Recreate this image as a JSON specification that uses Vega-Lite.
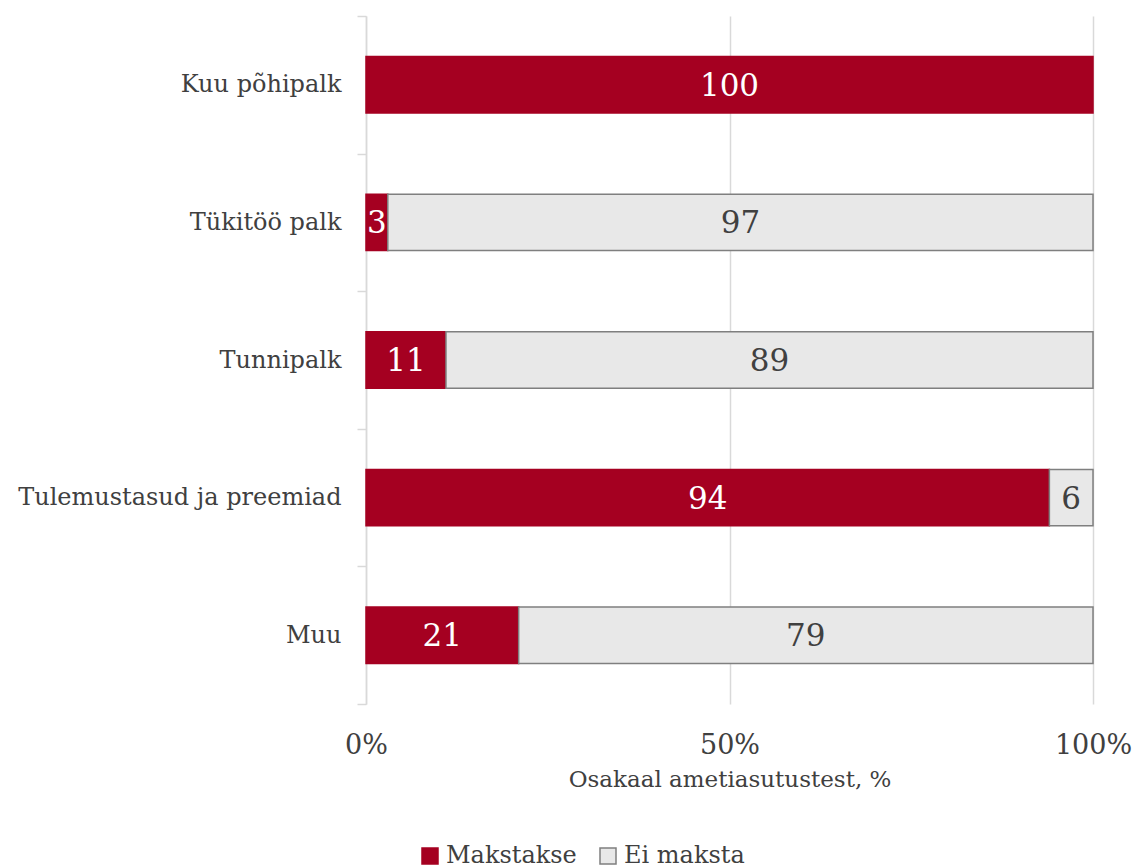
{
  "$schema": "https://vega.github.io/schema/vega-lite/v6.json",
  "width": 727,
  "height": 688,
  "autosize": "none",
  "padding": {"left": 366, "top": 16, "right": 43, "bottom": 164},
  "background": "white",
  "config": {
    "font": "DejaVu Serif",
    "view": {"stroke": null}
  },
  "data": {
    "values": [
      {"cat": "Kuu põhipalk", "series": "Makstakse", "ord": 1, "value": 100},
      {"cat": "Kuu põhipalk", "series": "Ei maksta", "ord": 2, "value": 0},
      {"cat": "Tükitöö palk", "series": "Makstakse", "ord": 1, "value": 3},
      {"cat": "Tükitöö palk", "series": "Ei maksta", "ord": 2, "value": 97},
      {"cat": "Tunnipalk", "series": "Makstakse", "ord": 1, "value": 11},
      {"cat": "Tunnipalk", "series": "Ei maksta", "ord": 2, "value": 89},
      {"cat": "Tulemustasud ja preemiad", "series": "Makstakse", "ord": 1, "value": 94},
      {"cat": "Tulemustasud ja preemiad", "series": "Ei maksta", "ord": 2, "value": 6},
      {"cat": "Muu", "series": "Makstakse", "ord": 1, "value": 21},
      {"cat": "Muu", "series": "Ei maksta", "ord": 2, "value": 79}
    ]
  },
  "transform": [
    {"stack": "value", "groupby": ["cat"], "sort": [{"field": "ord", "order": "ascending"}], "as": ["v0", "v1"]},
    {"filter": "datum.value > 0"},
    {"calculate": "(datum.v0 + datum.v1) / 2", "as": "mid"}
  ],
  "encoding": {
    "y": {
      "field": "cat",
      "type": "nominal",
      "sort": null,
      "scale": {"paddingInner": 0, "paddingOuter": 0},
      "axis": {
        "title": null,
        "labelFontSize": 24,
        "labelColor": "#404040",
        "labelPadding": 16,
        "labelLimit": 400,
        "tickBand": "extent",
        "ticks": true,
        "tickSize": 9,
        "tickWidth": 1.5,
        "tickColor": "#D9D9D9",
        "domainColor": "#D9D9D9",
        "domainWidth": 1.5,
        "grid": false
      }
    }
  },
  "layer": [
    {
      "mark": {"type": "bar", "strokeWidth": 1.5, "height": {"band": 0.41}},
      "encoding": {
        "x": {
          "field": "v0",
          "type": "quantitative",
          "scale": {"domain": [0, 100], "nice": false},
          "axis": {
            "values": [0, 50, 100],
            "labelExpr": "datum.value + '%'",
            "labelFontSize": 27,
            "labelColor": "#404040",
            "labelPadding": 28,
            "labelFlush": false,
            "ticks": false,
            "domain": false,
            "grid": true,
            "gridColor": "#D9D9D9",
            "gridWidth": 1.5,
            "title": "Osakaal ametiasutustest, %",
            "titleFontSize": 23,
            "titleFontWeight": "normal",
            "titleColor": "#404040",
            "titlePadding": 10
          }
        },
        "x2": {"field": "v1"},
        "color": {
          "field": "series",
          "type": "nominal",
          "scale": {"domain": ["Makstakse", "Ei maksta"], "range": ["#A50021", "#E8E8E8"]},
          "legend": {
            "title": null,
            "orient": "none",
            "direction": "horizontal",
            "legendX": 52,
            "legendY": 828,
            "labelFontSize": 24,
            "labelColor": "#404040",
            "symbolType": "square",
            "symbolSize": 256,
            "symbolStrokeWidth": 1.5,
            "labelOffset": 4,
            "columnPadding": 19
          }
        },
        "stroke": {
          "field": "series",
          "type": "nominal",
          "scale": {"domain": ["Makstakse", "Ei maksta"], "range": ["#A50021", "#7F7F7F"]}
        }
      }
    },
    {
      "mark": {"type": "text", "fontSize": 31, "baseline": "middle", "align": "center", "dy": 2},
      "encoding": {
        "x": {"field": "mid", "type": "quantitative"},
        "text": {"field": "value", "type": "quantitative"},
        "color": {
          "condition": {"test": "datum.series === 'Makstakse'", "value": "white"},
          "value": "#404040"
        }
      }
    }
  ]
}
